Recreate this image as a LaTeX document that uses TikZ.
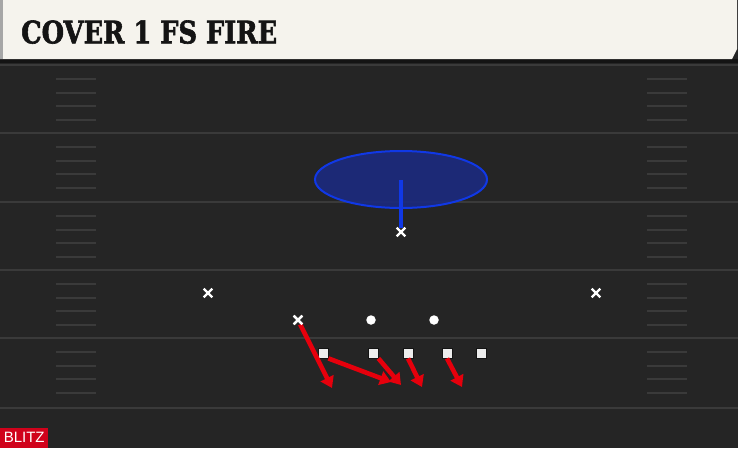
\documentclass[tikz,border=0pt]{standalone}
\usepackage{fontspec}
\usepackage{graphicx}
\newfontfamily\titlefont{DejaVu Serif}[BoldFeatures={FakeBold=2}]
\newfontfamily\labelfont{Liberation Sans}
\usetikzlibrary{arrows.meta,shapes.misc,shapes.geometric}
\definecolor{fieldbg}{RGB}{37,37,37}
\definecolor{bannerbg}{RGB}{245,243,237}
\definecolor{yardc}{RGB}{58,58,58}
\definecolor{hashc}{RGB}{58,58,58}
\definecolor{zonefill}{RGB}{28,42,125}
\definecolor{zoneline}{RGB}{16,56,230}
\definecolor{routered}{RGB}{230,0,12}
\definecolor{blitzred}{RGB}{208,2,27}
\definecolor{sqborder}{RGB}{20,20,20}
\tikzset{
  yard/.style={draw=yardc, line width=2pt},
  hashmark/.style={draw=hashc, line width=1.6pt},
  xm/.style={cross out, draw=white, line width=2.2pt, minimum size=6.5pt, inner sep=0pt},
  dotp/.style={circle, fill=white, minimum size=9.5pt, inner sep=0pt},
  sqp/.style={rectangle, fill=white!93!black, draw=sqborder, line width=0.8pt, minimum size=10pt, inner sep=0pt},
  redroute/.style={draw=routered, line width=4.6pt, -{Triangle[length=11pt,width=14pt]}},
  zone/.style={ellipse, fill=zonefill, fill opacity=0.92, draw=zoneline, line width=2pt, minimum width=172pt, minimum height=57pt, inner sep=0pt},
  blueroute/.style={draw=zoneline, line width=3.2pt},
}
\begin{document}
\begin{tikzpicture}[x=1pt,y=-1pt]
\useasboundingbox (0,0) rectangle (738,448);
\fill[fieldbg] (0,0) rectangle (738,448);
% banner shadow
\fill[black, opacity=0.45] (0,59) rectangle (738,63);
% banner
\fill[bannerbg] (0,0) -- (737,0) -- (737,49) -- (732,59) -- (0,59) -- cycle;
\fill[black!35] (0,0) rectangle (3,59);
\node[anchor=south west, inner sep=0pt, text=black!92] (title) at (21,44)
  {\resizebox{256pt}{23pt}{\titlefont\bfseries COVER 1 FS FIRE}};
% yard lines
\foreach \y in {65,133,202,270,338,408} {
  \draw[yard] (0,\y) -- (738,\y);
}
% hash marks
\foreach \y in {65,133,202,270,338} {
  \foreach \d in {14,28,41,55} {
    \draw[hashmark] (56,\y+\d) -- (96,\y+\d);
    \draw[hashmark] (647,\y+\d) -- (687,\y+\d);
  }
}
% zone
\node[zone] (zn) at (401,179.5) {};
% players
\node[xm] (fs) at (401,232) {};
\node[xm] (lbl) at (208,293) {};
\node[xm] (lbr) at (596,293) {};
\node[xm] (bl) at (298,320) {};
\node[dotp] (c1) at (371,320) {};
\node[dotp] (c2) at (434,320) {};
% red routes
\coordinate (e1) at (332,388);
\coordinate (e2) at (391,382);
\coordinate (e3) at (401,385);
\coordinate (e4) at (422,387);
\coordinate (e5) at (462,387);
\node[sqp] (s1) at (323,353) {};
\node[sqp] (s2) at (373,353) {};
\node[sqp] (s3) at (408,353) {};
\node[sqp] (s4) at (447,353) {};
\node[sqp] (s5) at (481,353) {};
\draw[redroute] (bl) -- (e1);
\draw[redroute] (s1.south east) -- (e2);
\draw[redroute] (s2.south east) -- (e3);
\draw[redroute] (s3.south) -- (e4);
\draw[redroute] (s4.south) -- (e5);
\node[xm] at (bl) {};
% blue route
\draw[blueroute] (fs.north) -- (zn.center);
% BLITZ label
\node[anchor=south west, fill=blitzred, text=white, minimum width=48pt, minimum height=20pt, inner sep=0pt, font=\labelfont\fontsize{15}{15}\selectfont] (blitz) at (0,448) {BLITZ};
\end{tikzpicture}
\end{document}
